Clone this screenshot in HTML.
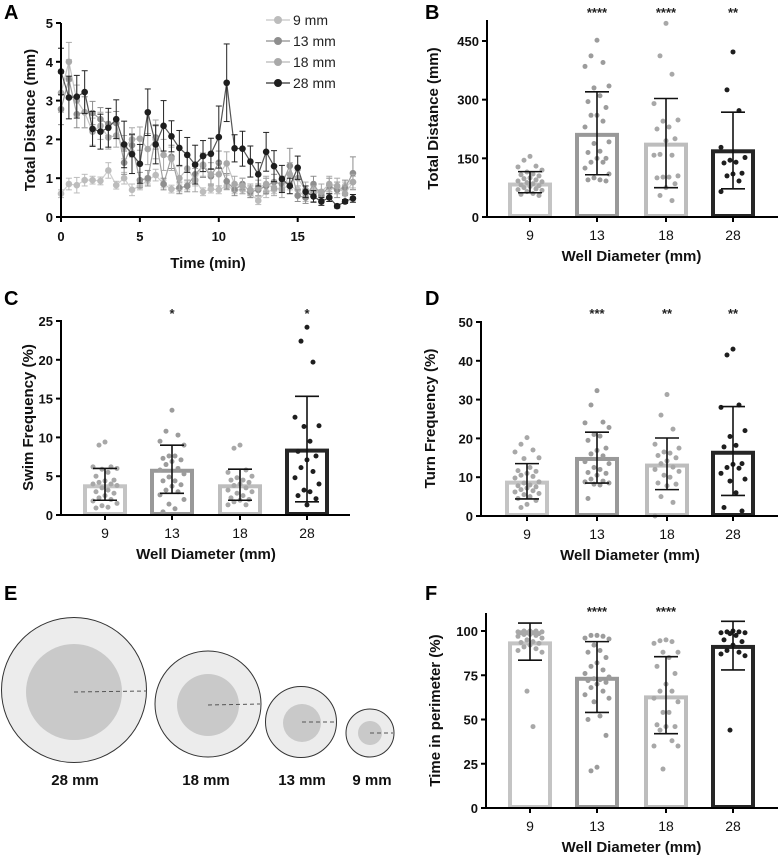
<!DOCTYPE html>
<html><head><meta charset="utf-8"><style>
body{margin:0;background:#fff;}
svg{display:block;font-family:"Liberation Sans",Arial,sans-serif;}
.t{font-weight:bold;font-size:13px;fill:#111}
.ti{font-weight:bold;font-size:15px;fill:#111}
.pl{font-weight:bold;font-size:20px;fill:#000}
</style></head><body>
<svg id="fig" width="780" height="858" viewBox="0 0 780 858">
<text class="pl" x="4" y="19">A</text>
<text class="pl" x="425" y="19">B</text>
<text class="pl" x="4" y="305">C</text>
<text class="pl" x="425" y="305">D</text>
<text class="pl" x="4" y="600">E</text>
<text class="pl" x="425" y="600">F</text>
<g id="pe">
 <g><circle cx="74" cy="690" r="72.5" fill="#ececec" stroke="#333" stroke-width="1"/><circle cx="74" cy="692" r="48" fill="#c9c9c9"/><line x1="74" y1="692" x2="147" y2="691" stroke="#555" stroke-dasharray="4,3"/></g>
 <g><circle cx="208" cy="704" r="53" fill="#ececec" stroke="#333" stroke-width="1"/><circle cx="208" cy="705" r="31" fill="#c9c9c9"/><line x1="208" y1="705" x2="260" y2="704" stroke="#555" stroke-dasharray="4,3"/></g>
 <g><circle cx="301" cy="722" r="35.5" fill="#ececec" stroke="#333" stroke-width="1"/><circle cx="302" cy="723" r="19" fill="#c9c9c9"/><line x1="302" y1="722" x2="336" y2="722" stroke="#555" stroke-dasharray="4,3"/></g>
 <g><circle cx="370" cy="733" r="24" fill="#ececec" stroke="#333" stroke-width="1"/><circle cx="370" cy="733" r="12" fill="#c9c9c9"/><line x1="370" y1="733" x2="393" y2="733" stroke="#555" stroke-dasharray="4,3"/></g>
 <text class="ti" x="75" y="785" text-anchor="middle" fill="#333">28 mm</text>
 <text class="ti" x="206" y="785" text-anchor="middle">18 mm</text>
 <text class="ti" x="302" y="785" text-anchor="middle">13 mm</text>
 <text class="ti" x="372" y="785" text-anchor="middle">9 mm</text>
</g>
</svg>
<script>
// ---------- Panel A data ----------
const aTimes = [];
for (let i = 0; i < 38; i++) aTimes.push(i * 0.5);
const aSeries = ["9 mm", "13 mm", "18 mm", "28 mm"];
const a9 = [0.6,0.85,0.82,0.95,0.95,0.93,1.2,0.82,1.0,0.7,0.8,0.95,1.08,0.85,0.72,0.75,0.8,0.95,0.65,0.72,0.7,0.8,0.7,0.7,0.6,0.42,0.65,0.7,0.75,0.8,0.7,0.5,0.7,0.6,0.75,0.7,0.8,0.9];
const a13 = [2.78,3.55,2.65,2.7,2.68,2.52,2.4,2.42,1.4,1.85,0.95,1.0,2.05,0.85,1.55,0.75,0.8,1.1,1.32,1.05,1.4,0.92,0.7,0.85,0.65,0.7,0.8,0.9,0.85,1.32,0.55,0.5,0.85,0.55,0.8,0.7,0.75,1.13];
const a18 = [3.2,4.0,3.0,2.7,2.2,2.35,2.05,2.1,1.8,2.0,2.02,1.75,2.0,1.6,1.5,1.0,1.25,0.95,1.35,1.1,1.1,1.38,0.85,0.8,0.7,0.75,0.85,0.75,0.7,1.1,1.0,0.7,0.6,0.65,0.85,0.8,0.6,0.9];
const a28 = [3.75,3.08,3.1,3.22,2.27,2.2,2.3,2.52,1.87,1.62,1.37,2.7,1.87,2.35,2.08,1.78,1.6,1.35,1.57,1.63,2.06,3.46,1.77,1.76,1.43,1.1,1.68,1.31,0.98,0.8,1.27,0.65,0.53,0.4,0.5,0.28,0.4,0.48];
const aErr9 = [0.1,0.15,0.2,0.15,0.1,0.1,0.2,0.1,0.15,0.15,0.1,0.1,0.15,0.1,0.1,0.1,0.1,0.15,0.1,0.1,0.1,0.1,0.1,0.1,0.1,0.1,0.15,0.1,0.1,0.1,0.1,0.1,0.1,0.1,0.1,0.1,0.1,0.15];
const aErr13 = [0.4,0.5,0.35,0.4,0.3,0.3,0.3,0.3,0.3,0.3,0.2,0.2,0.3,0.15,0.3,0.15,0.15,0.2,0.3,0.2,0.3,0.2,0.15,0.15,0.15,0.15,0.2,0.2,0.2,0.45,0.15,0.15,0.2,0.15,0.2,0.2,0.2,0.42];
const aErr18 = [0.5,0.5,0.4,0.4,0.35,0.35,0.3,0.3,0.3,0.3,0.3,0.4,0.5,0.4,0.3,0.3,0.3,0.3,0.3,0.3,0.3,0.3,0.2,0.2,0.15,0.2,0.2,0.2,0.2,0.3,0.2,0.2,0.2,0.2,0.2,0.2,0.2,0.2];
const aErr28 = [0.6,0.55,0.55,0.55,0.45,0.45,0.5,0.5,0.6,0.5,0.5,0.6,0.5,0.65,0.4,0.45,0.45,0.5,0.4,0.4,0.8,1.0,0.35,0.45,0.4,0.3,0.5,0.4,0.35,0.2,0.3,0.15,0.15,0.1,0.1,0.05,0.05,0.1];
const aTicksX = [0,5,10,15];
const aTicksY = [0,1,2,3,4,5];

// ---------- Bar panel data ----------
const cats = ["9","13","18","28"];
const bMeans = [83,210,185,168];
const bLo = [62,108,75,72];
const bHi = [116,320,303,268];
const bP9 = [155,145,130,128,120,115,110,108,105,100,98,95,92,90,88,85,82,80,78,75,72,70,68,65,60,58,55];
const bP13 = [452,412,395,385,335,330,310,295,280,260,260,245,230,192,188,168,165,150,150,140,140,125,110,100,95,95,92];
const bP18 = [495,412,365,290,248,245,230,225,200,195,160,158,158,105,102,102,100,85,75,55,42];
const bP28 = [422,325,272,178,152,145,140,138,112,110,105,92,65];
const bStars = ["","****","****","**"];
const bTicks = [0,150,300,450];

const cMeans = [3.7,5.7,3.7,8.3];
const cLo = [1.9,2.8,1.9,1.7];
const cHi = [6.0,9.0,5.9,15.3];
const cP9 = [9.4,9.0,6.2,6.2,6.0,5.9,5.5,5.0,4.5,4.4,4.2,4.0,4.0,3.8,3.5,3.2,3.0,2.8,2.5,2.2,2.0,1.8,1.5,1.2,1.0,0.9];
const cP13 = [13.5,10.8,10.3,9.5,9.0,7.6,7.6,7.3,7.1,6.9,6.5,6.0,5.8,5.3,4.9,4.4,4.4,3.9,3.7,3.2,3.0,2.6,2.0,1.4,0.8,0.4];
const cP18 = [9.0,8.6,5.8,5.5,5.0,4.8,4.5,4.5,4.2,4.0,3.8,3.5,3.2,3.0,2.8,2.5,2.2,2.0,1.9,1.7,1.3,1.3];
const cP28 = [24.2,22.4,19.7,12.6,11.5,11.4,9.5,8.2,7.6,7.1,6.1,5.6,4.8,4.0,3.2,3.0,2.5,2.1,1.3];
const cStars = ["","*","","*"];
const cTicks = [0,5,10,15,20,25];

const dMeans = [8.6,14.7,13.0,16.3];
const dLo = [4.4,8.5,6.8,5.3];
const dHi = [13.5,21.6,20.1,28.2];
const dP9 = [20.2,18.5,17,16.5,15,14.8,12.5,11.7,11.5,11,10.5,10.2,9.8,8.8,8.5,8,7.8,7.5,7.2,6.8,6.5,6.2,5.8,5.5,5,4.5,4,3,2.2];
const dP13 = [32.3,28.6,24.2,24,22.8,21,20.6,19.5,17.5,16.9,16,15.5,14,13.5,12.5,12,11.2,11,10.5,9.5,9,8.8,8.5,8.2,8,4.5];
const dP18 = [31.3,26,22.4,18.5,17.5,16.5,16.2,15.6,15,14.2,13.5,12.6,12,11.5,10.5,10,8.5,8.2,7.8,5,3.5,0];
const dP28 = [43,41.5,28.6,28,22,20.5,18.2,17.8,13.5,13.3,12.5,12.3,11,9.5,9,6,2.2,1.3];
const dStars = ["","***","**","**"];
const dTicks = [0,10,20,30,40,50];

const fMeans = [93,73,62.5,91];
const fLo = [83.5,54,42,78];
const fHi = [104.5,94,85.5,105.5];
const fP9 = [100,100,100,99.5,99.5,99,99,99,98.5,98,98,97.5,97,96,95,94,93.5,93,92,91,90,89,88,66,46];
const fP13 = [97.5,97.5,97,96,95.5,92,89,88,85,82,80,78,76,74,73,72.5,72,71,70,68,66,64,62,60,52,50,41,23,21];
const fP18 = [95,94.5,94,93,88,88,85,80,76,70,66,66,62,60,54,54,47,46,46,44,38,35,35,22];
const fP28 = [100,99.5,99.5,99,99,98.5,97.5,95,94,92,89,88,87,86,44];
const fStars = ["","****","****",""];
const fTicks = [0,25,50,75,100];

const NS = "http://www.w3.org/2000/svg";
const fig = document.getElementById("fig");
function mk(tag, attrs, parent) {
  const e = document.createElementNS(NS, tag);
  for (const k in attrs) e.setAttribute(k, attrs[k]);
  (parent || fig).appendChild(e);
  return e;
}

// ---------- Panel A ----------
(function(){
  const g = mk("g", {});
  
  
  const x0 = 61, x1 = 355, yB = 217, yT = 23;
  const sx = t => x0 + t * 15.78;
  const sy = v => yB - v * (yB - yT) / 5;
  const colors = ["#bcbcbc","#8e8e8e","#a9a9a9","#1e1e1e"];
  const lineC = ["#cfcfcf","#a0a0a0","#c4c4c4","#555"];
  const data = [a9,a13,a18,a28];
  const errs = [aErr9,aErr13,aErr18,aErr28];
  data.forEach((ser, s) => {
    const sg = mk("g", {}, g);
    
    
    let d = "";
    ser.forEach((v, i) => { d += (i ? "L" : "M") + sx(aTimes[i]) + "," + sy(v); });
    mk("path", {d: d, fill: "none", stroke: lineC[s], "stroke-width": 1.2}, sg);
    ser.forEach((v, i) => {
      const x = sx(aTimes[i]), e = errs[s][i];
      const ec = s === 3 ? "#222" : colors[s];
      mk("line", {x1: x, x2: x, y1: sy(v + e), y2: sy(v - e), stroke: ec, "stroke-width": 1}, sg);
      mk("line", {x1: x - 3, x2: x + 3, y1: sy(v + e), y2: sy(v + e), stroke: ec, "stroke-width": 1}, sg);
      mk("line", {x1: x - 3, x2: x + 3, y1: sy(v - e), y2: sy(v - e), stroke: ec, "stroke-width": 1}, sg);
      const c = mk("circle", {cx: x, cy: sy(v), r: 3.3, fill: colors[s]}, sg);
      
      
    });
  });
  mk("line", {x1: x0, x2: x0, y1: yT, y2: yB, stroke: "#000", "stroke-width": 2}, g);
  mk("line", {x1: x0, x2: x1, y1: yB, y2: yB, stroke: "#000", "stroke-width": 2}, g);
  aTicksY.forEach(v => {
    mk("line", {x1: x0 - 5, x2: x0, y1: sy(v), y2: sy(v), stroke: "#000", "stroke-width": 2}, g);
    const t = mk("text", {x: x0 - 8, y: sy(v) + 5, "text-anchor": "end", class: "t"}, g); t.textContent = v;
  });
  aTicksX.forEach(v => {
    mk("line", {x1: sx(v), x2: sx(v), y1: yB, y2: yB + 5, stroke: "#000", "stroke-width": 2}, g);
    const t = mk("text", {x: sx(v), y: yB + 24, "text-anchor": "middle", class: "t"}, g); t.textContent = v;
  });
  const xt = mk("text", {x: 208, y: 268, "text-anchor": "middle", class: "ti"}, g);
  xt.textContent = "Time (min)";
  
  
  const yt = mk("text", {x: 0, y: 0, "text-anchor": "middle", class: "ti", transform: "translate(35,120) rotate(-90)"}, g);
  yt.textContent = "Total Distance (mm)";
  
  
  aSeries.forEach((n, s) => {
    const lg = mk("g", {}, g);
    
    
    const y = 20 + s * 21;
    mk("line", {x1: 266, x2: 290, y1: y, y2: y, stroke: lineC[s], "stroke-width": 1.5}, lg);
    mk("circle", {cx: 278, cy: y, r: 4, fill: colors[s]}, lg);
    const t = mk("text", {x: 293, y: y + 5, "font-size": "14", fill: "#222"}, lg); t.textContent = n;
  });
})();

// ---------- Bar panels ----------
const barStroke = ["#c4c4c4","#999","#bdbdbd","#262626"];
const dotFill = ["#a8a8a8","#9c9c9c","#a8a8a8","#1e1e1e"];
function barPanel(o) {
  const g = mk("g", {});
  
  
  const sy = v => o.yB - (v - 0) * (o.yB - o.yMaxPx) / o.yMax;
  o.means.forEach((m, i) => {
    const x = o.xs[i];
    const r = mk("rect", {x: x - 20, y: sy(m), width: 40, height: o.yB - sy(m) - 1, fill: "#fff", stroke: barStroke[i], "stroke-width": 4}, g);
    
    
    o.pts[i].forEach((v, k) => {
      const off = [0,-6,6,-12,12,-3,3,-9,9][k % 9];
      const c = mk("circle", {cx: x + off, cy: sy(v), r: 2.5, fill: dotFill[i]}, g);
      
      
    });
    const eg = mk("g", {stroke: "#111", "stroke-width": 1.6}, g);
    
    
    mk("line", {x1: x, x2: x, y1: sy(o.hi[i]), y2: sy(o.lo[i])}, eg);
    mk("line", {x1: x - 12, x2: x + 12, y1: sy(o.hi[i]), y2: sy(o.hi[i])}, eg);
    mk("line", {x1: x - 12, x2: x + 12, y1: sy(o.lo[i]), y2: sy(o.lo[i])}, eg);
    if (o.stars[i]) {
      const s = mk("text", {x: x, y: o.starY, "text-anchor": "middle", "font-size": "13", "font-weight": "bold", fill: "#222"}, g);
      s.textContent = o.stars[i];
      
      
    }
    const tl = mk("text", {x: x, y: o.yB + 23, "text-anchor": "middle", "font-size": "14", fill: "#111"}, g);
    tl.textContent = cats[i];
    mk("line", {x1: x, x2: x, y1: o.yB, y2: o.yB + 5, stroke: "#000", "stroke-width": 2}, g);
  });
  mk("line", {x1: o.x0, x2: o.x0, y1: o.yTop, y2: o.yB, stroke: "#000", "stroke-width": 2}, g);
  mk("line", {x1: o.x0, x2: o.x1, y1: o.yB, y2: o.yB, stroke: "#000", "stroke-width": 2}, g);
  o.ticks.forEach(v => {
    mk("line", {x1: o.x0 - 5, x2: o.x0, y1: sy(v), y2: sy(v), stroke: "#000", "stroke-width": 2}, g);
    const t = mk("text", {x: o.x0 - 8, y: sy(v) + 5, "text-anchor": "end", class: "t"}, g); t.textContent = v;
  });
  const xt = mk("text", {x: (o.xs[0] + o.xs[3]) / 2, y: o.yB + 44, "text-anchor": "middle", class: "ti"}, g);
  xt.textContent = "Well Diameter (mm)";
  
  
  const yt = mk("text", {x: 0, y: 0, "text-anchor": "middle", class: "ti", transform: "translate(" + o.ytx + "," + ((o.yB + o.yTop) / 2) + ") rotate(-90)"}, g);
  yt.textContent = o.ytitle;
  
  
}
barPanel({name: "panel-b-total-distance", x0: 487, x1: 778, yB: 217, yTop: 20, yMax: 450, yMaxPx: 41, xs: [530,597,666,733], means: bMeans, lo: bLo, hi: bHi, pts: [bP9,bP13,bP18,bP28], stars: bStars, starY: 17, ticks: bTicks, ytitle: "Total Distance (mm)", ytx: 438});
barPanel({name: "panel-c-swim-frequency", x0: 61, x1: 350, yB: 515, yTop: 320, yMax: 25, yMaxPx: 321, xs: [105,172,240,307], means: cMeans, lo: cLo, hi: cHi, pts: [cP9,cP13,cP18,cP28], stars: cStars, starY: 318, ticks: cTicks, ytitle: "Swim Frequency (%)", ytx: 33});
barPanel({name: "panel-d-turn-frequency", x0: 481, x1: 778, yB: 516, yTop: 321, yMax: 50, yMaxPx: 322, xs: [527,597,667,733], means: dMeans, lo: dLo, hi: dHi, pts: [dP9,dP13,dP18,dP28], stars: dStars, starY: 318, ticks: dTicks, ytitle: "Turn Frequency (%)", ytx: 435});
barPanel({name: "panel-f-time-in-perimeter", x0: 486, x1: 778, yB: 808, yTop: 613, yMax: 100, yMaxPx: 631, xs: [530,597,666,733], means: fMeans, lo: fLo, hi: fHi, pts: [fP9,fP13,fP18,fP28], stars: fStars, starY: 616, ticks: fTicks, ytitle: "Time in perimeter (%)", ytx: 440});
</script>
</body></html>
